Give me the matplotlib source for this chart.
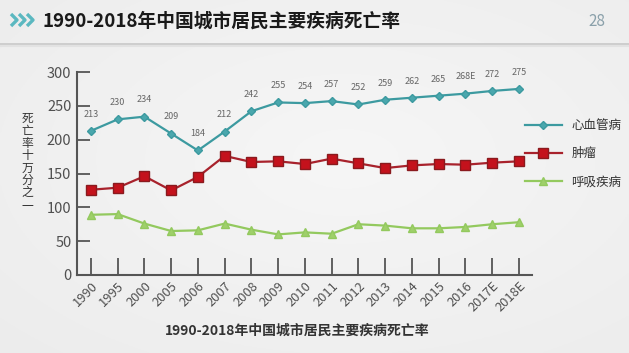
import numpy as np
import matplotlib
matplotlib.use("Agg")
import matplotlib.pyplot as plt

plt.rcParams["font.family"] = ["Noto Sans CJK SC", "DejaVu Sans"]

years = ["1990", "1995", "2000", "2005", "2006", "2007", "2008", "2009", "2010",
         "2011", "2012", "2013", "2014", "2015", "2016", "2017E", "2018E"]
cardio = [213, 230, 234, 209, 184, 212, 242, 255, 254, 257, 252, 259, 262, 265, 268, 272, 275]
cardio_labels = ["213", "230", "234", "209", "184", "212", "242", "255", "254", "257",
                 "252", "259", "262", "265", "268E", "272", "275"]
tumor = [126, 129, 146, 125, 145, 176, 167, 168, 164, 172, 165, 158, 162, 164, 163, 166, 168]
resp = [89, 90, 76, 65, 66, 76, 67, 60, 63, 61, 75, 73, 69, 69, 71, 75, 78]
series_names = ["心血管病", "肿瘤", "呼吸疾病"]
title = "1990-2018年中国城市居民主要疾病死亡率"

W, H = 629, 353
fig = plt.figure(figsize=(W / 100, H / 100), dpi=100)

# soft grey background
bg = fig.add_axes([0, 0, 1, 1], zorder=-10)
yy, xx = np.mgrid[0:1:200j, 0:1:300j]
shade = 0.965 - 0.05 * np.sqrt((xx - 0.55) ** 2 + (yy - 0.45) ** 2)
bg.imshow(np.dstack([shade] * 3), aspect="auto", extent=[0, 1, 0, 1])
bg.set_xlim(0, 1)
bg.set_ylim(0, 1)
bg.axis("off")

# header
bg.plot([0, 1], [1 - 44 / H, 1 - 44 / H], color="#c8c8c8", lw=1.2)
bg.plot([0, 1], [1 - 46 / H, 1 - 46 / H], color="#e2e2e2", lw=1.5)
for i in range(3):
    x0 = (11 + i * 8) / W
    bg.plot([x0, x0 + 6 / W, x0], [1 - 14 / H, 1 - 20 / H, 1 - 26 / H],
            color="#5bb8c0", lw=2.4, solid_capstyle="butt")
fig.text(43 / W, 1 - 21 / H, title, fontsize=13.5, fontweight="bold",
         color="#1a1a1a", va="center", ha="left")
fig.text(597 / W, 1 - 22 / H, "28", fontsize=11, color="#8aa0aa", va="center", ha="center")

ax = fig.add_axes([77 / W, 1 - 275 / H, (532 - 77) / W, (275 - 72) / H])
ax.patch.set_alpha(0)
x = np.arange(len(years))

c_cardio = "#3c9aa0"
c_tumor = "#a8222c"
c_resp = "#93c95e"

ax.plot(x, cardio, color=c_cardio, lw=1.6, marker="D", ms=4.5,
        mfc="#4aa7ad", mec=c_cardio, label=series_names[0])
ax.plot(x, tumor, color=c_tumor, lw=1.6, marker="s", ms=7.5,
        mfc="#c4121c", mec="#8a1a1e", label=series_names[1])
ax.plot(x, resp, color=c_resp, lw=1.6, marker="^", ms=5.5,
        mfc="#9fd06a", mec=c_resp, label=series_names[2])

for xi, v, lab in zip(x, cardio, cardio_labels):
    ax.annotate(lab, (xi, v), xytext=(0, 12), textcoords="offset points",
                ha="center", va="center", fontsize=6.5, color="#666666")

ax.set_xlim(-0.52, 16.49)
ax.set_ylim(0, 300)
ax.set_yticks([0, 50, 100, 150, 200, 250, 300])
ax.set_xticks(x)
ax.set_xticklabels(years, rotation=45, ha="right", rotation_mode="anchor")
ax.tick_params(axis="y", direction="in", length=9, width=1.3, colors="#555555",
               labelsize=10.5, pad=4)
ax.tick_params(axis="x", direction="in", length=12, width=1.3, colors="#555555",
               labelsize=9.3, pad=3)
for lab in ax.get_xticklabels() + ax.get_yticklabels():
    lab.set_color("#505050")
for s in ["top", "right"]:
    ax.spines[s].set_visible(False)
for s in ["left", "bottom"]:
    ax.spines[s].set_color("#555555")
    ax.spines[s].set_linewidth(1.5)

# y label stacked vertically
fig.text(27 / W, 1 - 162 / H, "\n".join("死亡率十万分之一"), fontsize=8.5,
         color="#333333", ha="center", va="center", linespacing=0.93)

leg = ax.legend(loc="upper left", bbox_to_anchor=(519 / W, 1 - 113 / H),
                bbox_transform=fig.transFigure, frameon=False, borderpad=0,
                fontsize=9, handlelength=2.9, labelspacing=1.2, handletextpad=0.8)
for t in leg.get_texts():
    t.set_color("#333333")

fig.text(297 / W, 1 - 331 / H, title, fontsize=10, fontweight="bold",
         color="#333333", ha="center", va="center")

fig.savefig("out.png", dpi=100)
